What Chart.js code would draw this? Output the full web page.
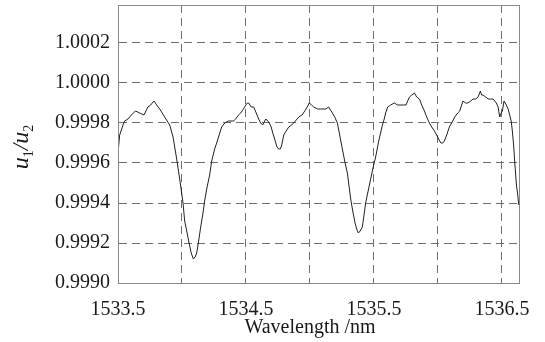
<!DOCTYPE html>
<html>
<head>
<meta charset="utf-8">
<script src="https://cdn.jsdelivr.net/npm/chart.js@4.4.1/dist/chart.umd.min.js"></script>
<style>
  html, body { margin: 0; padding: 0; background: #ffffff; }
  #wrap { width: 545px; height: 342px; }
</style>
</head>
<body>
<div id="wrap"><canvas id="c" width="545" height="342"></canvas></div>
<script>
// ---- data ----
const wavelengthNm = [
1533.500,1533.513,1533.539,1533.552,1533.578,1533.605,1533.636,1533.670,1533.703,1533.734,
1533.755,1533.781,1533.802,1533.826,1533.865,1533.904,1533.930,1533.956,1533.982,1534.008,
1534.021,1534.037,1534.052,1534.072,1534.089,1534.103,1534.115,1534.130,1534.146,1534.164,
1534.177,1534.193,1534.216,1534.232,1534.255,1534.271,1534.295,1534.310,1534.334,1534.363,
1534.402,1534.420,1534.441,1534.459,1534.480,1534.498,1534.511,1534.521,1534.541,1534.560,
1534.580,1534.599,1534.615,1534.630,1534.646,1534.656,1534.670,1534.683,1534.697,1534.709,
1534.724,1534.742,1534.755,1534.769,1534.779,1534.795,1534.814,1534.834,1534.857,1534.886,
1534.912,1534.938,1534.959,1534.978,1534.994,1535.013,1535.029,1535.060,1535.091,1535.123,
1535.146,1535.175,1535.193,1535.214,1535.232,1535.253,1535.271,1535.292,1535.318,1535.334,
1535.352,1535.365,1535.378,1535.392,1535.409,1535.420,1535.435,1535.451,1535.474,1535.494,
1535.513,1535.537,1535.566,1535.580,1535.591,1535.607,1535.630,1535.659,1535.685,1535.711,
1535.732,1535.750,1535.763,1535.777,1535.795,1535.816,1535.834,1535.855,1535.873,1535.894,
1535.912,1535.933,1535.951,1535.972,1535.998,1536.013,1536.023,1536.037,1536.050,1536.068,
1536.089,1536.115,1536.130,1536.154,1536.170,1536.185,1536.195,1536.216,1536.234,1536.256,
1536.273,1536.295,1536.313,1536.326,1536.331,1536.341,1536.352,1536.373,1536.391,1536.412,
1536.430,1536.443,1536.456,1536.470,1536.482,1536.494,1536.503,1536.516,1536.534,1536.548,
1536.560,1536.572,1536.581,1536.591,1536.599,1536.613,1536.623,1536.631
];
const ratioU1U2 = [
0.99965,0.99974,0.99979,0.99981,0.99982,0.99984,0.99986,0.99985,0.99984,0.99988,
0.99989,0.99991,0.99989,0.99987,0.99983,0.99979,0.99973,0.99963,0.99952,0.99940,
0.99931,0.99926,0.99921,0.99915,0.99912,0.99913,0.99915,0.99921,0.99928,0.99935,
0.99941,0.99947,0.99954,0.99961,0.99967,0.99970,0.99975,0.99978,0.99980,0.99981,
0.99981,0.99982,0.99984,0.99985,0.99987,0.99989,0.99990,0.99990,0.99988,0.99988,
0.99985,0.99982,0.99980,0.99979,0.99981,0.99982,0.99981,0.99980,0.99978,0.99975,
0.99972,0.99968,0.99967,0.99967,0.99969,0.99974,0.99976,0.99978,0.99979,0.99981,
0.99983,0.99984,0.99986,0.99988,0.99990,0.99989,0.99988,0.99987,0.99987,0.99987,
0.99988,0.99985,0.99983,0.99980,0.99974,0.99967,0.99961,0.99955,0.99942,0.99936,
0.99930,0.99927,0.99925,0.99926,0.99928,0.99933,0.99940,0.99945,0.99952,0.99958,
0.99963,0.99971,0.99979,0.99982,0.99985,0.99988,0.99989,0.99990,0.99989,0.99989,
0.99989,0.99989,0.99991,0.99993,0.99994,0.99995,0.99993,0.99992,0.99989,0.99986,
0.99983,0.99980,0.99978,0.99976,0.99973,0.99971,0.99970,0.99970,0.99971,0.99974,
0.99978,0.99981,0.99983,0.99985,0.99986,0.99989,0.99991,0.99990,0.99990,0.99991,
0.99992,0.99992,0.99993,0.99995,0.99996,0.99994,0.99994,0.99993,0.99992,0.99992,
0.99992,0.99991,0.99990,0.99988,0.99983,0.99985,0.99986,0.99991,0.99989,0.99987,
0.99984,0.99981,0.99976,0.99969,0.99961,0.99949,0.99944,0.99939
];
const xTickValues = [1533.5, 1534.0, 1534.5, 1535.0, 1535.5, 1536.0, 1536.5];
const xLabelledTicks = [1533.5, 1534.5, 1535.5, 1536.5];
const yTickValues = [0.9990, 0.9992, 0.9994, 0.9996, 0.9998, 1.0000, 1.0002];
const xRange = [1533.5, 1536.633];
const yRange = [0.9990, 1.00039];
const xTitle = 'Wavelength /nm';

// ---- chart ----
const points = wavelengthNm.map((w, i) => ({ x: w, y: ratioU1U2[i] }));
const FONT = "'Liberation Serif', 'DejaVu Serif', serif";

const decor = {
  id: 'decor',
  beforeDraw(chart) {
    const ctx = chart.ctx;
    ctx.save();
    ctx.fillStyle = '#ffffff';
    ctx.fillRect(0, 0, chart.width, chart.height);
    ctx.restore();
  },
  afterDraw(chart) {
    const { ctx, chartArea: a } = chart;
    ctx.save();
    ctx.strokeStyle = '#8a8a8a';
    ctx.lineWidth = 1;
    ctx.setLineDash([]);
    const l = Math.round(a.left) + 0.5, t = Math.round(a.top) + 0.5;
    const r = Math.round(a.right) + 0.5, b = Math.round(a.bottom) + 0.5;
    ctx.strokeRect(l, t, r - l, b - t);

    // x title
    ctx.fillStyle = '#1a1a1a';
    ctx.font = "20px " + FONT;
    ctx.textAlign = 'center';
    ctx.textBaseline = 'alphabetic';
    ctx.fillText(xTitle, 310, 333);

    // y title u1/u2 with subscripts, rotated
    ctx.translate(28, 147);
    ctx.rotate(-Math.PI / 2);
    ctx.textAlign = 'left';
    const parts = [
      { t: 'u', f: "italic 24px " + FONT, dy: 0 },
      { t: '1', f: "14px " + FONT, dy: 5 },
      { t: '/', f: "italic 23px " + FONT, dy: 0 },
      { t: 'u', f: "italic 24px " + FONT, dy: 0 },
      { t: '2', f: "14px " + FONT, dy: 5 }
    ];
    let total = 0;
    parts.forEach(p => { ctx.font = p.f; p.w = ctx.measureText(p.t).width; total += p.w; });
    let x = -total / 2;
    parts.forEach(p => { ctx.font = p.f; ctx.fillText(p.t, x, p.dy); x += p.w; });
    ctx.restore();
  }
};

new Chart(document.getElementById('c'), {
  type: 'line',
  data: {
    datasets: [{
      data: points,
      borderColor: '#222222',
      borderWidth: 1,
      pointRadius: 0,
      tension: 0,
      fill: false
    }]
  },
  options: {
    responsive: false,
    animation: false,
    devicePixelRatio: 1,
    layout: { padding: { top: 5, right: 26, left: 0, bottom: 0 } },
    plugins: { legend: { display: false }, tooltip: { enabled: false } },
    scales: {
      x: {
        type: 'linear',
        min: xRange[0],
        max: xRange[1],
        afterBuildTicks(scale) { scale.ticks = xTickValues.map(v => ({ value: v })); },
        afterFit(scale) { scale.height = 59; scale.paddingLeft = 0; scale.paddingRight = 0; },
        ticks: {
          autoSkip: false,
          maxRotation: 0,
          padding: 15,
          color: '#1a1a1a',
          font: { family: FONT, size: 20 },
          callback(v) { return xLabelledTicks.some(t => Math.abs(t - v) < 1e-6) ? v.toFixed(1) : ''; }
        },
        grid: { color: '#6e6e6e', lineWidth: 1, drawTicks: false },
        border: { display: true, color: '#8a8a8a', dash: [8, 5] }
      },
      y: {
        type: 'linear',
        min: yRange[0],
        max: yRange[1],
        afterBuildTicks(scale) { scale.ticks = yTickValues.map(v => ({ value: v })); },
        afterFit(scale) { scale.width = 118; scale.paddingTop = 0; scale.paddingBottom = 0; },
        ticks: {
          autoSkip: false,
          padding: 8,
          color: '#1a1a1a',
          font: { family: FONT, size: 20 },
          callback(v) { return v.toFixed(4); }
        },
        grid: { color: '#6e6e6e', lineWidth: 1, drawTicks: false },
        border: { display: true, color: '#8a8a8a', dash: [8, 5] }
      }
    }
  },
  plugins: [decor]
});
</script>
</body>
</html>
